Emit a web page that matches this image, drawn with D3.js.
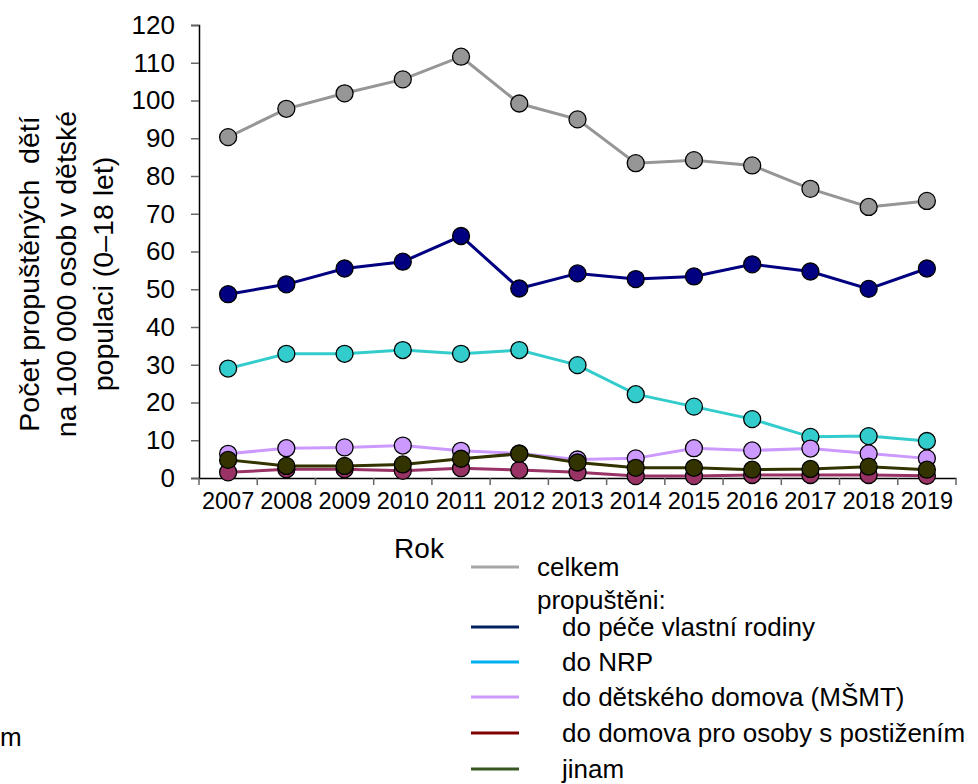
<!DOCTYPE html>
<html>
<head>
<meta charset="utf-8">
<script src="https://cdn.jsdelivr.net/npm/d3@7"></script>
<style>
  body { margin: 0; background: #fff; }
  text { font-family: "Liberation Sans", Arial, sans-serif; fill: #000; }
</style>
</head>
<body>
<div id="chart"></div>
<script>
const years = ["2007", "2008", "2009", "2010", "2011", "2012", "2013", "2014", "2015", "2016", "2017", "2018", "2019"]
const yTicks = [0, 10, 20, 30, 40, 50, 60, 70, 80, 90, 100, 110, 120]

const celkem = [90.3, 97.8, 101.9, 105.6, 111.6, 99.2, 95.0, 83.4, 84.2, 82.8, 76.6, 71.8, 73.4]
const peceRodiny = [48.7, 51.3, 55.5, 57.3, 64.1, 50.2, 54.2, 52.7, 53.4, 56.6, 54.7, 50.1, 55.5]
const nrp = [29.0, 32.9, 32.9, 33.9, 32.9, 33.9, 29.9, 22.2, 18.9, 15.6, 10.9, 11.1, 9.8]
const detskyDomov = [6.4, 7.9, 8.1, 8.6, 7.2, 6.5, 4.9, 5.2, 7.9, 7.3, 7.8, 6.5, 5.2]
const domovPostizeni = [1.5, 2.3, 2.3, 1.9, 2.6, 2.1, 1.5, 0.5, 0.5, 0.8, 0.8, 0.8, 0.6]
const jinam = [4.8, 3.2, 3.2, 3.6, 5.1, 6.4, 4.1, 2.7, 2.7, 2.2, 2.4, 3.0, 2.2]

const series = [
  { name: "celkem", values: celkem, color: "#969696", legend: "#a6a6a6" },
  { name: "do péče vlastní rodiny", values: peceRodiny, color: "#000080", legend: "#002060" },
  { name: "do NRP", values: nrp, color: "#33cccc", legend: "#00b0f0" },
  { name: "do dětského domova (MŠMT)", values: detskyDomov, color: "#cc99ff", legend: "#cc99ff" },
  { name: "do domova pro osoby s postižením", values: domovPostizeni, color: "#993366", legend: "#800000" },
  { name: "jinam", values: jinam, color: "#333300", legend: "#375623" }
]

const W = 978, H = 784
const svg = d3.select("#chart").append("svg")
  .attr("width", W)
  .attr("height", H)

// plot area
const PLOT = { LEFT: 199, RIGHT: 956, TOP: 25, BOTTOM: 478 }

const x = d3.scaleBand().domain(years).range([PLOT.LEFT, PLOT.RIGHT])
const y = d3.scaleLinear().domain([0, 120]).range([PLOT.BOTTOM, PLOT.TOP])

// y axis
const yAxis = svg.append("g")
  .attr("transform", `translate(${PLOT.LEFT},0)`)
  .call(d3.axisLeft(y).tickValues(yTicks).tickSize(8).tickPadding(16))
yAxis.select(".domain").attr("stroke", "#000").attr("stroke-width", 1.5)
yAxis.selectAll(".tick line").attr("stroke", "#666").attr("stroke-width", 1.5)
yAxis.selectAll("text").style("font-size", "26px")

// x axis, ticks on category edges
const xAxis = svg.append("g")
  .attr("transform", `translate(0,${PLOT.BOTTOM})`)
  .call(d3.axisBottom(x).tickSize(0).tickPadding(14))
xAxis.select(".domain").attr("stroke", "#000").attr("stroke-width", 1.5)
xAxis.selectAll("text").style("font-size", "23.5px")
xAxis.selectAll(".edge")
  .data(years.map(d => x(d)).concat([PLOT.RIGHT]))
  .enter().append("line")
    .attr("x1", d => d).attr("x2", d => d)
    .attr("y1", 0).attr("y2", 7)
    .attr("stroke", "#666").attr("stroke-width", 1.5)

// axis titles
svg.append("text")
  .attr("x", 419).attr("y", 558)
  .attr("text-anchor", "middle")
  .style("font-size", "28px")
  .text("Rok")

const yTitle = ["Počet propuštěných\u00a0 dětí", "na 100 000 osob v dětské", "populaci (0–18 let)"]
svg.append("g")
  .attr("transform", "translate(0,274) rotate(-90)")
  .selectAll("text")
  .data(yTitle)
  .enter().append("text")
    .attr("x", 0)
    .attr("y", (d, i) => 39 + i * 37)
    .attr("text-anchor", "middle")
    .style("font-size", "28.5px")
    .text(d => d)

// lines + markers
const line = d3.line()
  .x((d, i) => x(years[i]) + x.bandwidth() / 2)
  .y(d => y(d))

series.forEach(s => {
  const g = svg.append("g")
  g.append("path")
    .attr("fill", "none")
    .attr("stroke", s.color)
    .attr("stroke-width", 3)
    .attr("d", line(s.values))
  g.selectAll("circle")
    .data(s.values)
    .enter().append("circle")
      .attr("cx", (d, i) => x(years[i]) + x.bandwidth() / 2)
      .attr("cy", d => y(d))
      .attr("r", 8.5)
      .attr("fill", s.color)
      .attr("stroke", "#000")
      .attr("stroke-width", 1.3)
})

// legend
const legendRows = [
  { label: "celkem", color: series[0].legend, y: 567, tx: 537 },
  { label: "propuštěni:", color: null, y: 600, tx: 537 },
  { label: "do péče vlastní rodiny", color: series[1].legend, y: 627, tx: 562 },
  { label: "do NRP", color: series[2].legend, y: 662, tx: 562 },
  { label: "do dětského domova (MŠMT)", color: series[3].legend, y: 697, tx: 562 },
  { label: "do domova pro osoby s postižením", color: series[4].legend, y: 733, tx: 562 },
  { label: "jinam", color: series[5].legend, y: 769, tx: 562 }
]
const lg = svg.append("g")
legendRows.forEach(r => {
  if (r.color) {
    lg.append("line")
      .attr("x1", 471).attr("x2", 519)
      .attr("y1", r.y).attr("y2", r.y)
      .attr("stroke", r.color).attr("stroke-width", 3)
  }
  lg.append("text")
    .attr("x", r.tx).attr("y", r.y + 9)
    .style("font-size", "26px")
    .text(r.label)
})

// remnant of a second legend at the left edge
svg.append("text")
  .attr("x", 0).attr("y", 746)
  .style("font-size", "26px")
  .text("m")
</script>
</body>
</html>
